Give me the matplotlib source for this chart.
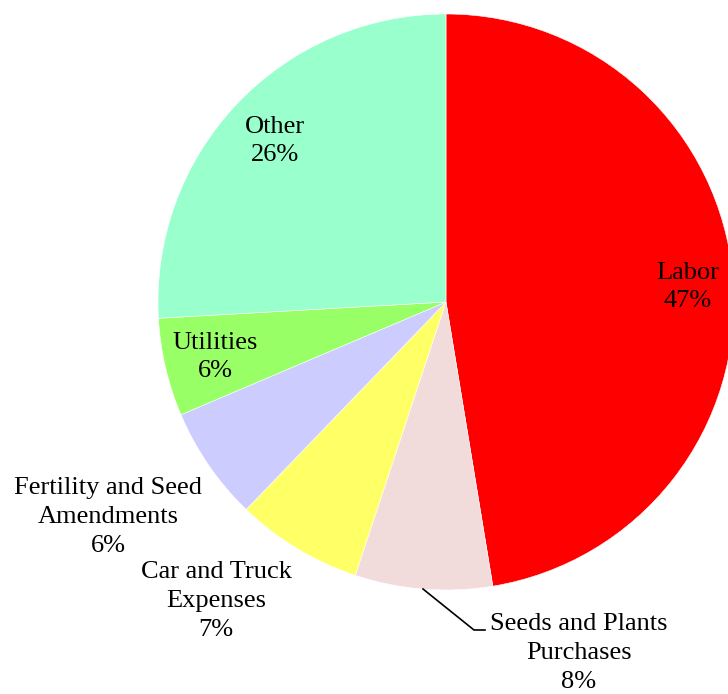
import numpy as np
import matplotlib.pyplot as plt

# Данные
categories = ['Labor', 'Seeds and Plants\nPurchases', 'Car and Truck\nExpenses',
              'Fertility and Seed\nAmendments', 'Utilities', 'Other']
values = [47.4, 7.7, 7.1, 6.4, 5.5, 25.9]
pct_labels = ['47%', '8%', '7%', '6%', '6%', '26%']
colors = ['#FF0000', '#F2DCDB', '#FFFF66', '#CCCCFF', '#99FF66', '#99FFCC']

W, H = 728, 694
cx, cy, R = 446, 302, 288  # центр и радиус круга в пикселях

plt.rcParams['font.family'] = ['Liberation Serif', 'DejaVu Serif']

fig = plt.figure(figsize=(W / 100, H / 100), dpi=100)
ax = fig.add_axes([(cx - R) / W, (H - cy - R) / H, 2 * R / W, 2 * R / H])

wedges, _ = ax.pie(values, colors=colors, startangle=90, counterclock=False,
                   radius=1.0, wedgeprops=dict(linewidth=0.4, edgecolor='white'))
ax.set_xlim(-1, 1)
ax.set_ylim(-1, 1)
ax.set_aspect('equal')
ax.axis('off')
for w in wedges:
    w.set_clip_on(False)


def px2d(px, py):
    return (px - cx) / R, (cy - py) / R


# Позиции подписей (пиксели)
label_pos = [(688, 287), (579, 653), (216, 601), (108, 517), (215, 357), (275, 141)]
for name, pct, (px, py) in zip(categories, pct_labels, label_pos):
    x, y = px2d(px, py)
    ax.text(x, y, f'{name}\n{pct}', ha='center', va='center', fontsize=19,
            linespacing=1.4, clip_on=False)

# Выноска для Seeds and Plants
p = [px2d(423, 589), px2d(474, 630), px2d(485, 630)]
ax.plot([q[0] for q in p], [q[1] for q in p], color='black', lw=1.2, clip_on=False)

fig.savefig('out.png', dpi=100)
